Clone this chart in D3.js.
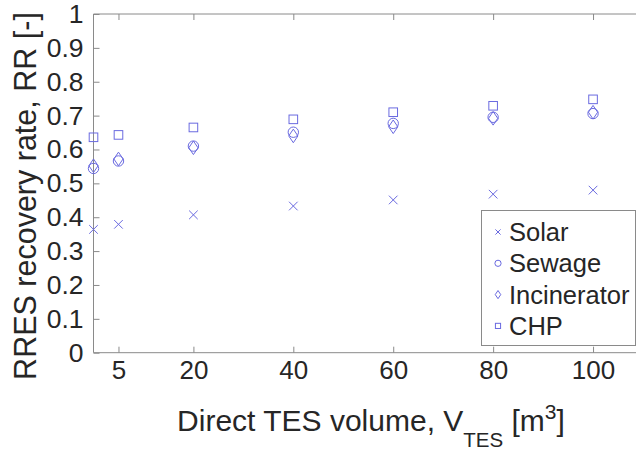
<!DOCTYPE html>
<html>
<head>
<meta charset="utf-8">
<script src="https://cdn.jsdelivr.net/npm/d3@7"></script>
<style>
  html, body { margin: 0; padding: 0; background: #fff; }
  svg text { font-family: "Liberation Sans", Arial, sans-serif; fill: #262626; }
</style>
</head>
<body>
<svg id="chart" width="636" height="452"></svg>
<script>
// ---- data ----
const volumes = [0, 5, 20, 40, 60, 80, 100];
const solar = [0.364, 0.379, 0.407, 0.433, 0.451, 0.468, 0.480];
const sewage = [0.544, 0.566, 0.610, 0.651, 0.677, 0.695, 0.706];
const incinerator = [0.552, 0.572, 0.605, 0.640, 0.667, 0.692, 0.710];
const chp = [0.636, 0.643, 0.665, 0.689, 0.710, 0.729, 0.748];
const xTicks = [5, 20, 40, 60, 80, 100];
const yTicks = [0, 0.1, 0.2, 0.3, 0.4, 0.5, 0.6, 0.7, 0.8, 0.9, 1];
const seriesNames = ["Solar", "Sewage", "Incinerator", "CHP"];
const seriesShapes = ["cross", "circle", "diamond", "square"];
const seriesValues = [solar, sewage, incinerator, chp];

(function () {
const svg = d3.select("#chart");
const pL = 93.5, pR = 643, pT = 14, pB = 352.7;
const x = d3.scaleLinear().domain([0, 110]).range([pL, pR]);
const y = d3.scaleLinear().domain([0, 1]).range([pB, pT]);
const axisColor = "#8a8a8a";
const markColor = "#6a6ae0";

// box lines
[[pL, pR, pB, pB], [pL, pR, pT, pT], [pL, pL, pT, pB]].forEach(([x1, x2, y1, y2]) => {
  svg.append("line").attr("x1", x1).attr("x2", x2).attr("y1", y1).attr("y2", y2)
    .attr("stroke", axisColor).attr("stroke-width", 1);
});

// x axis (bottom) ticks inward, labels below
const xAxis = d3.axisBottom(x).tickValues(xTicks).tickSize(-6).tickPadding(8).tickFormat(d3.format("d"));
const gx = svg.append("g").attr("transform", `translate(0,${pB})`).call(xAxis);
gx.select(".domain").remove();
gx.selectAll(".tick line").attr("stroke", axisColor);
gx.selectAll(".tick text").attr("font-size", 26).attr("fill", "#262626").attr("dy", "0.71em");

// top ticks
const xTop = d3.axisTop(x).tickValues(xTicks).tickSize(-6).tickFormat("");
const gxt = svg.append("g").attr("transform", `translate(0,${pT})`).call(xTop);
gxt.select(".domain").remove();
gxt.selectAll(".tick line").attr("stroke", axisColor);

// y axis
const yAxis = d3.axisLeft(y).tickValues(yTicks).tickSize(-6).tickPadding(10)
  .tickFormat(d => d === 0 ? "0" : d === 1 ? "1" : d3.format(".1f")(d));
const gy = svg.append("g").attr("transform", `translate(${pL},0)`).call(yAxis);
gy.select(".domain").remove();
gy.selectAll(".tick line").attr("stroke", axisColor);
gy.selectAll(".tick text").attr("font-size", 26.5).attr("fill", "#262626");

// markers (k = scale factor)
function drawMarker(g, shape, cx, cy, k) {
  if (shape === "cross") {
    const h = 4.3 * k;
    g.append("path").attr("d", `M${cx-h},${cy-h}L${cx+h},${cy+h}M${cx-h},${cy+h}L${cx+h},${cy-h}`)
      .attr("stroke", markColor).attr("fill", "none").attr("stroke-width", 1);
  } else if (shape === "circle") {
    g.append("circle").attr("cx", cx).attr("cy", cy).attr("r", 5.2 * k)
      .attr("stroke", markColor).attr("fill", "none").attr("stroke-width", 1);
  } else if (shape === "diamond") {
    const w = 4.6 * k, h = 6.8 * k;
    g.append("path").attr("d", `M${cx},${cy-h}L${cx+w},${cy}L${cx},${cy+h}L${cx-w},${cy}Z`)
      .attr("stroke", markColor).attr("fill", "none").attr("stroke-width", 1);
  } else {
    const h = 4.3 * k;
    g.append("rect").attr("x", cx - h).attr("y", cy - h).attr("width", 2 * h).attr("height", 2 * h)
      .attr("stroke", markColor).attr("fill", "none").attr("stroke-width", 1);
  }
}

const gm = svg.append("g");
seriesValues.forEach((vals, si) => {
  vals.forEach((v, i) => drawMarker(gm, seriesShapes[si], x(volumes[i]), y(v), 1));
});

// legend
const lg = svg.append("g");
const lx0 = 481.5, ly0 = 210.5, lx1 = 635.5, ly1 = 345.5;
lg.append("rect").attr("x", lx0).attr("y", ly0).attr("width", lx1 - lx0).attr("height", ly1 - ly0)
  .attr("fill", "#fff").attr("stroke", axisColor).attr("stroke-width", 1);
seriesNames.forEach((name, i) => {
  const cy = 232 + i * 31.3;
  drawMarker(lg, seriesShapes[i], 498, cy, 0.6);
  lg.append("text").attr("x", 509).attr("y", cy).attr("dy", "0.36em")
    .attr("font-size", 25.5).text(name);
});

// x label
const xl = svg.append("text").attr("x", 371).attr("y", 431).attr("text-anchor", "middle")
  .attr("font-size", 30);
xl.append("tspan").text("Direct TES volume, V");
xl.append("tspan").attr("font-size", 20.5).attr("dy", 15.5).text("TES");
xl.append("tspan").attr("dy", -15.5).text(" [m");
xl.append("tspan").attr("font-size", 21).attr("dy", -12).text("3");
xl.append("tspan").attr("dy", 12).text("]");

// y label
svg.append("text").attr("transform", "translate(36,196) rotate(-90)")
  .attr("text-anchor", "middle").attr("font-size", 30.5)
  .text("RRES recovery rate, RR [-]");
})();
</script>
</body>
</html>
